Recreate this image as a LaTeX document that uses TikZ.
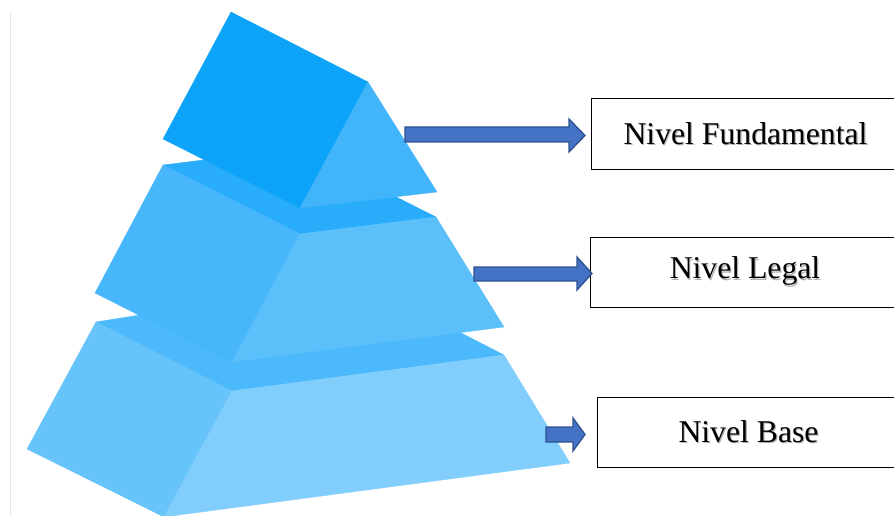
\documentclass[tikz,border=0pt]{standalone}
\usepackage{fontspec}
\setmainfont{Liberation Serif}
\definecolor{topL}{HTML}{0CA3F9}
\definecolor{topR}{HTML}{42B4FA}
\definecolor{midT}{HTML}{29ACFA}
\definecolor{midL}{HTML}{48B6FA}
\definecolor{midR}{HTML}{5BBFFA}
\definecolor{basT}{HTML}{4BB9FB}
\definecolor{basL}{HTML}{67C4FB}
\definecolor{basR}{HTML}{81CDFB}
\definecolor{arrF}{HTML}{4472C4}
\definecolor{arrD}{HTML}{2F528F}
\definecolor{edgeline}{HTML}{E6E6E6}
\newcommand{\shadowtext}[1]{\makebox[0pt][l]{\raisebox{-1.2pt}{\hspace{1.2pt}\textcolor{black!30}{#1}}}#1}
\tikzset{
  face/.style={line width=0.3pt, line join=round},
  blockarrow/.style={fill=arrF, draw=arrD, line width=1.3pt, line join=miter},
  levelbox/.style={draw=black, line width=1pt, fill=white, minimum height=70pt,
    inner sep=0pt, font=\fontsize{31.7}{38}\selectfont}
}
\begin{document}
\begin{tikzpicture}[x=1pt,y=-1pt]
\useasboundingbox (0,0) rectangle (894,516);
\clip (0,0) rectangle (894,516);
\fill[white] (0,0) rectangle (894,516);
\draw[edgeline, line width=1pt] (10.5,12) -- (10.5,516);
% base block
\fill[face, basT, draw=basT] (96,322) -- (358,280) -- (504,355) -- (232,391) -- cycle;
\fill[face, basL, draw=basL] (96,322) -- (232,391) -- (164,517) -- (27,449) -- cycle;
\fill[face, basR, draw=basR] (232,391) -- (504,355) -- (570,463) -- (164,517) -- cycle;
% middle block
\fill[face, midT, draw=midT] (163,165) -- (299,148) -- (436,217) -- (300,234) -- cycle;
\fill[face, midL, draw=midL] (163,165) -- (300,234) -- (232,362) -- (95,293) -- cycle;
\fill[face, midR, draw=midR] (300,234) -- (436,217) -- (504,327) -- (232,362) -- cycle;
% top block
\fill[face, topL, draw=topL] (231,12) -- (368,82) -- (300,208) -- (163,139) -- cycle;
\fill[face, topR, draw=topR] (368,82) -- (437,192) -- (300,208) -- cycle;
% boxes
\node[levelbox, minimum width=309pt] (fund) at (745.5,134) {\shadowtext{Nivel Fundamental}};
\node[levelbox, minimum width=310pt] (legal) at (745,272) {\shadowtext{Nivel Legal}};
\node[levelbox, minimum width=303pt] (base) at (748.5,432) {\shadowtext{Nivel Base}};
% arrows
\draw[blockarrow] (405,127) -- (569,127) -- (569,119) -- (585,135.5) -- (569,152) -- (569,142) -- (405,142) -- cycle;
\draw[blockarrow] (474,267) -- (577,267) -- (577,257) -- (592,273.5) -- (577,290) -- (577,281) -- (474,281) -- cycle;
\draw[blockarrow] (546,427) -- (573,427) -- (573,418) -- (585,434.5) -- (573,451) -- (573,442) -- (546,442) -- cycle;
\end{tikzpicture}
\end{document}
